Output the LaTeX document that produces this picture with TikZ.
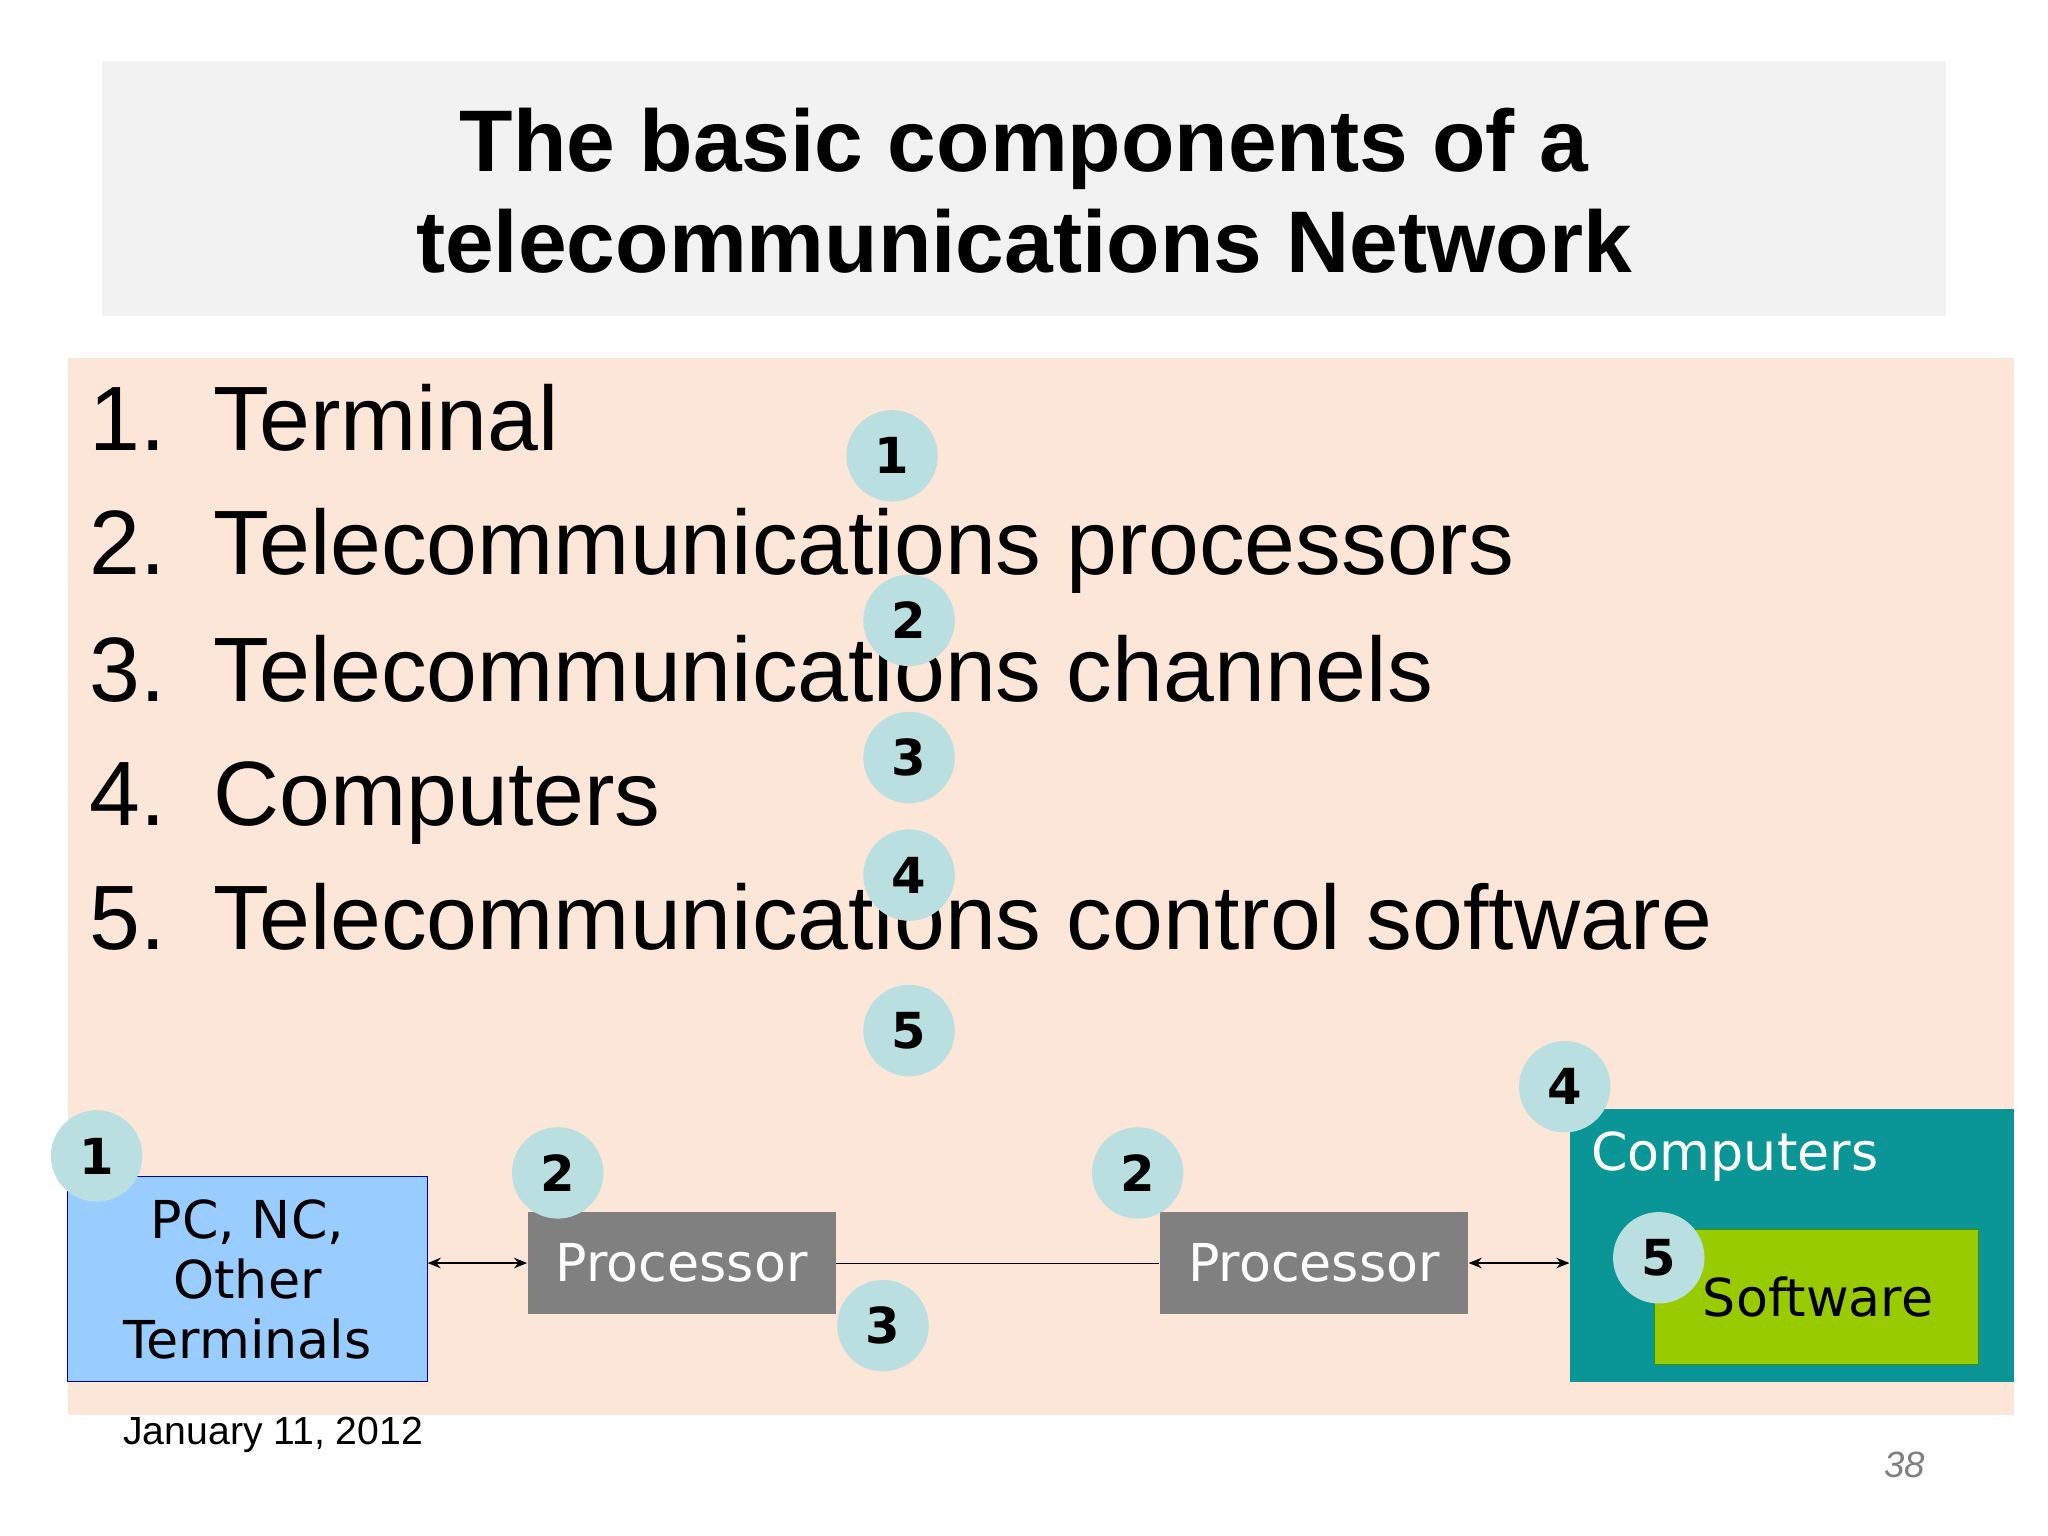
\documentclass[tikz,border=0pt]{standalone}
\usepackage{fontspec}
\setmainfont{Liberation Sans}
\newfontfamily\dv{DejaVu Sans}
\usetikzlibrary{arrows.meta}
\definecolor{peach}{HTML}{FCE6D8}
\definecolor{circ}{HTML}{B9DFE0}
\definecolor{pcb}{HTML}{99CCFF}
\definecolor{teal}{HTML}{0A9696}
\definecolor{soft}{HTML}{99CC00}
\begin{document}
\begin{tikzpicture}[x=0.5pt,y=-0.5pt,
 num/.style={circle,fill=circ,minimum size=35pt,inner sep=0pt,font=\dv\bfseries\fontsize{19}{19}\selectfont},
 proc/.style={fill=black!50,minimum width=118pt,minimum height=39pt,text=white,font=\dv\fontsize{20}{20}\selectfont},
 li/.style={anchor=base west,inner sep=0pt,font=\fontsize{35}{35}\selectfont},
 arr/.style={{Stealth[length=5pt,width=4pt]}-{Stealth[length=5pt,width=4pt]},thick}]
\useasboundingbox (0,0) rectangle (1568,1176);
\fill[white] (0,0) rectangle (1568,1176);
\fill[black!5] (78,47) rectangle (1490,242);
\node[font=\bfseries\fontsize{33.5}{39}\selectfont,align=center] (title) at (784,146) {The basic components of a\\telecommunications Network};
\fill[peach] (52,274) rectangle (1542,1083);
\foreach \n/\t/\y in {1/Terminal/345,2/Telecommunications processors/440,3/Telecommunications channels/537,4/Computers/632,5/Telecommunications control software/727}{
 \node[li] (n\n) at (68,\y) {\n.};
 \node[li] (t\n) at (163,\y) {\t};
}
\node[num] (c1) at (683,349) {1};
\node[num] (c2) at (696,475) {2};
\node[num] (c3) at (696,580) {3};
\node[num] (c4) at (696,670) {4};
\node[num] (c5) at (696,789) {5};
\node[draw=blue!60!black,fill=pcb,minimum width=137.5pt,minimum height=78.5pt,align=center,font=\dv\fontsize{20}{23}\selectfont] (pc) at (189.5,979.5) {PC, NC,\\Other\\Terminals};
\node[proc] (p1) at (522,967) {Processor};
\node[proc] (p2) at (1006,967) {Processor};
\node[fill=teal,minimum width=170pt,minimum height=104.5pt] (comp) at (1372,953.5) {};
\node[anchor=base west,inner sep=0pt,text=white,font=\dv\fontsize{20}{20}\selectfont] (ct) at (1218,896) {Computers};
\node[fill=soft,draw=green!40!black!60!soft,minimum width=124pt,minimum height=52pt] (sw) at (1391,993) {};
\node[anchor=base,font=\dv\fontsize{20}{20}\selectfont] (swt) at (1392,1008) {Software};
\draw[arr] (p1.west -| pc.east) -- (p1.west);
\draw (p1.east) -- (p2.west);
\draw[arr] (p2.east) -- (p2.east -| comp.west);
\node[num] (d1) at (74,885) {1};
\node[num] (d2) at (427,898) {2};
\node[num] (d3) at (871,898) {2};
\node[num] (d4) at (676,1015) {3};
\node[num] (d5) at (1198,832) {4};
\node[num] (d6) at (1270,963) {5};
\node[anchor=base west,inner sep=0pt,font=\fontsize{15}{15}\selectfont] (date) at (94,1106) {January 11, 2012};
\node[anchor=base east,inner sep=0pt,text=black!50,font=\itshape\fontsize{14}{14}\selectfont] (pg) at (1474,1131) {38};
\end{tikzpicture}
\end{document}
